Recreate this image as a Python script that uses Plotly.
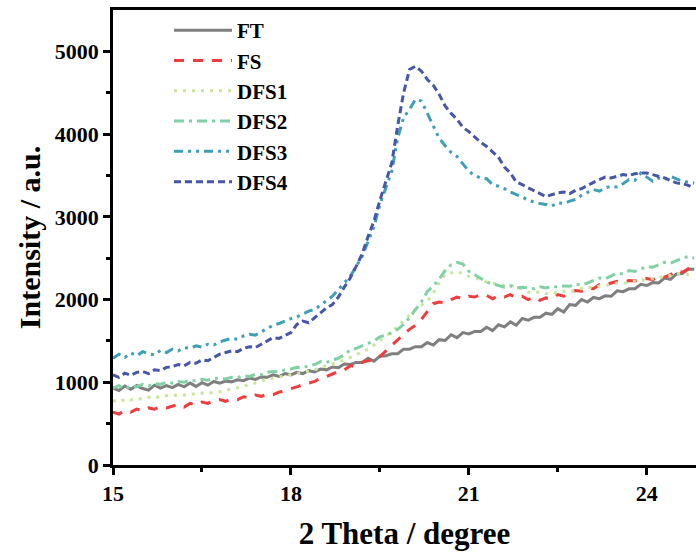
import plotly.graph_objects as go

# 2 theta grid (degree), 0.1 step from 15.0 to 24.8
two_theta = [round(15.0 + 0.1 * i, 1) for i in range(99)]

FT = [930, 900, 955, 915, 960, 925, 905, 965, 930, 960,
      935, 975, 945, 990, 950, 995, 965, 1010, 990, 1015,
      1005, 1030, 1020, 1050, 1035, 1065, 1060, 1090, 1070, 1105,
      1090, 1120, 1105, 1140, 1125, 1160, 1150, 1185, 1175, 1220,
      1215, 1240, 1240, 1290, 1255, 1315, 1320, 1345, 1345, 1400,
      1400, 1430, 1430, 1480, 1450, 1515, 1505, 1575, 1540, 1600,
      1585, 1615, 1615, 1665, 1625, 1695, 1670, 1730, 1690, 1770,
      1750, 1785, 1785, 1835, 1820, 1890, 1850, 1940, 1930, 2000,
      1970, 2025, 2010, 2045, 2040, 2105, 2095, 2130, 2130, 2185,
      2170, 2205, 2200, 2260, 2245, 2310, 2315, 2370, 2365]

FS = [640, 615, 660, 640, 675, 655, 690, 675, 705, 690,
      710, 735, 700, 745, 725, 760, 745, 780, 790, 770,
      800, 790, 825, 810, 845, 830, 860, 850, 880, 900,
      920, 945, 970, 990, 1010, 1050, 1070, 1100, 1130, 1150,
      1200, 1190, 1240, 1260, 1280, 1310, 1380, 1450, 1520, 1580,
      1640, 1690, 1760, 1860, 1950, 1970, 1960, 2000, 2030, 2010,
      2040, 2030, 2060, 2050, 2010, 2045, 2030, 2060, 2020, 2040,
      2000, 2030, 1990, 2020, 2010, 2060, 2040, 2080, 2110, 2100,
      2140, 2130, 2180, 2170, 2200, 2220, 2210, 2230, 2225, 2240,
      2255, 2240, 2280, 2270, 2300, 2350, 2330, 2370, 2400]

DFS1 = [780, 760, 795, 785, 805, 795, 820, 810, 830, 840,
        835, 850, 845, 860, 855, 870, 865, 880, 885, 900,
        915, 935, 950, 975, 990, 1015, 1040, 1050, 1065, 1075,
        1090, 1105, 1120, 1135, 1150, 1180, 1200, 1220, 1245, 1270,
        1300, 1330, 1370, 1400, 1450, 1510, 1560, 1610, 1680, 1740,
        1820, 1880, 1930, 1980, 2080, 2200, 2300, 2320, 2340, 2310,
        2280, 2260, 2240, 2210, 2200, 2185, 2170, 2175, 2150, 2130,
        2090, 2080, 2095, 2070, 2085, 2080, 2100, 2090, 2115, 2130,
        2150, 2140, 2165, 2170, 2185, 2200, 2195, 2210, 2220, 2235,
        2240, 2250, 2265, 2280, 2290, 2310, 2320, 2300, 2320]

DFS2 = [930, 960, 920, 955, 945, 975, 955, 985, 975, 1000,
        990, 1010, 1000, 1025, 1015, 1035, 1025, 1045, 1050, 1040,
        1060, 1055, 1080, 1070, 1095, 1090, 1120, 1130, 1125, 1150,
        1160, 1180, 1175, 1200, 1215, 1250, 1240, 1270, 1290, 1330,
        1390, 1410, 1440, 1470, 1500, 1550, 1570, 1600, 1640, 1700,
        1780, 1880, 1970, 2100, 2160, 2250, 2350, 2420, 2450, 2430,
        2340, 2300, 2250, 2210, 2190, 2170, 2150, 2165, 2140, 2150,
        2140, 2130, 2155, 2140, 2160, 2150, 2165, 2160, 2185, 2175,
        2200, 2230, 2260, 2250, 2290, 2320, 2310, 2350, 2340, 2370,
        2400, 2390, 2420, 2450, 2440, 2470, 2500, 2520, 2500]

DFS3 = [1290, 1340, 1300, 1355, 1320, 1370, 1345, 1330, 1385, 1360,
        1400, 1380, 1420, 1410, 1440, 1425, 1460, 1450, 1490, 1510,
        1530, 1520, 1560, 1580, 1570, 1610, 1650, 1690, 1710, 1740,
        1770, 1790, 1830, 1860, 1880, 1930, 1990, 2040, 2120, 2200,
        2280, 2400, 2520, 2700, 2880, 3150, 3350, 3550, 3950, 4200,
        4300, 4420, 4400, 4250, 4100, 3950, 3860, 3780, 3730, 3640,
        3550, 3500, 3470, 3460, 3390, 3370, 3340, 3300, 3270, 3240,
        3200, 3180, 3160, 3150, 3130, 3170, 3160, 3190, 3210, 3260,
        3300, 3330, 3310, 3350, 3370, 3360, 3400, 3450, 3440, 3530,
        3480, 3430, 3470, 3450, 3490, 3460, 3430, 3420, 3410]

DFS4 = [1090, 1060, 1110, 1085, 1120, 1130, 1105, 1150, 1140, 1180,
        1190, 1215, 1200, 1240, 1230, 1270, 1260, 1300, 1340, 1360,
        1380, 1370, 1410, 1430, 1420, 1460, 1500, 1540, 1530, 1570,
        1600, 1700, 1740, 1720, 1780, 1850, 1900, 1940, 2030, 2150,
        2260, 2400, 2550, 2760, 2950, 3200, 3430, 3650, 4100, 4500,
        4780, 4820, 4760, 4660, 4590, 4480, 4340, 4250, 4180, 4080,
        4030, 3960, 3900, 3850, 3780, 3720, 3600, 3530, 3420, 3390,
        3350, 3320, 3280, 3245, 3270, 3290, 3300, 3280, 3320, 3340,
        3380, 3420, 3450, 3480, 3470, 3490, 3510, 3500, 3520, 3530,
        3530, 3510, 3490, 3470, 3440, 3410, 3400, 3380, 3350]

series_names = ["FT", "FS", "DFS1", "DFS2", "DFS3", "DFS4"]
series_values = [FT, FS, DFS1, DFS2, DFS3, DFS4]
colors = ["#7f7f7f", "#f03c3c", "#c8e69a", "#80d2a6", "#3e9fb6", "#4656a8"]
dashes = ["solid", "10px,9px", "3px,6px", "10px,5px,3px,5px",
          "9px,5px,3px,5px,3px,5px", "7px,4px"]

x_ticks = [15, 18, 21, 24]
y_ticks = [0, 1000, 2000, 3000, 4000, 5000]

FONT = "Liberation Serif, Times New Roman, serif"

fig = go.Figure()
for name, vals, c, d in zip(series_names, series_values, colors, dashes):
    fig.add_trace(go.Scatter(x=two_theta, y=vals, mode="lines", name=name,
                             line=dict(color=c, width=3, dash=d)))

axis_common = dict(showline=True, linecolor="black", linewidth=2.5,
                   ticks="outside", ticklen=7, tickwidth=2.5, tickcolor="black",
                   showgrid=False, zeroline=False,
                   tickfont=dict(family=FONT, size=22, color="black", weight="bold"))

fig.update_xaxes(range=[15, 24.83], tickvals=x_ticks, ticktext=[str(v) for v in x_ticks],
                 mirror=True,
                 minor=dict(tickvals=[16.5, 19.5, 22.5], ticks="outside", ticklen=4,
                            tickwidth=2.5, tickcolor="black"),
                 title=dict(text="2 Theta / degree", standoff=18,
                            font=dict(family=FONT, size=31, color="black", weight="bold")),
                 **axis_common)
fig.update_yaxes(range=[0, 5500], tickvals=y_ticks, ticktext=[str(v) for v in y_ticks],
                 minor=dict(tickvals=[500, 1500, 2500, 3500, 4500], ticks="outside", ticklen=4,
                            tickwidth=2.5, tickcolor="black"),
                 title=dict(text="Intensity / a.u.", standoff=6,
                            font=dict(family=FONT, size=30, color="black", weight="bold")),
                 **axis_common)

fig.update_layout(
    width=696, height=554,
    margin=dict(l=113, r=0, t=10, b=89),
    plot_bgcolor="white", paper_bgcolor="white",
    showlegend=True,
    legend=dict(x=(169 - 113) / 583, y=1.0, xanchor="left", yanchor="top",
                bgcolor="rgba(0,0,0,0)", borderwidth=0, itemwidth=58,
                font=dict(family=FONT, size=21, color="black", weight="bold")),
)

fig.write_html("out.html", config={"displayModeBar": False},
               post_script="document.body.style.margin='0px';document.body.style.padding='0px';")
